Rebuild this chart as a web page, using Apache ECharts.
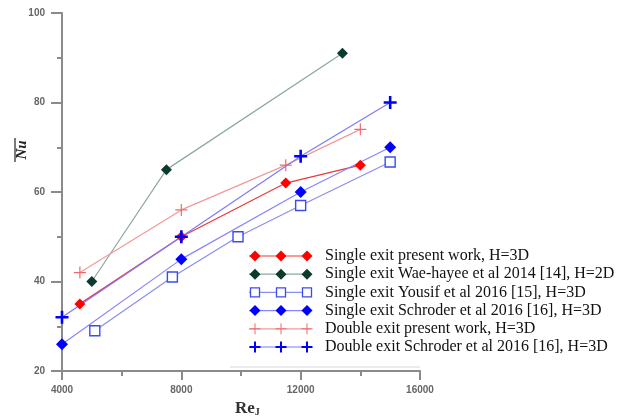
<!DOCTYPE html>
<html>
<head>
<meta charset="utf-8">
<script src="https://cdn.jsdelivr.net/npm/echarts@6/dist/echarts.min.js"></script>
<style>
  html, body { margin: 0; padding: 0; background: #fff; }
  #chart { width: 624px; height: 417px; }
</style>
</head>
<body>
<div id="chart"></div>
<script>
// data: [Re_J, Nu]
const seriesNames = [
  'Single exit present work, H=3D',
  'Single exit Wae-hayee et al 2014 [14], H=2D',
  'Single exit Yousif et al 2016 [15], H=3D',
  'Single exit Schroder et al 2016 [16], H=3D',
  'Double exit present work, H=3D',
  'Double exit Schroder et al 2016 [16], H=3D'
];
const singlePresent = [[4600, 35], [8000, 50], [11500, 62], [14000, 66]];
const singleWaeHayee = [[5000, 40], [7500, 65], [13400, 91]];
const singleYousif = [[5100, 29], [7700, 41], [9900, 50], [12000, 57], [15000, 66.7]];
const singleSchroder = [[4000, 26], [8000, 45], [12000, 60], [15000, 70]];
const doublePresent = [[4600, 42], [8000, 56], [11500, 66], [14000, 74]];
const doubleSchroder = [[4000, 32], [8000, 50], [12000, 68], [15000, 80]];
const xTicks = [4000, 8000, 12000, 16000];
const yTicks = [20, 40, 60, 80, 100];

const allData = [singlePresent, singleWaeHayee, singleYousif, singleSchroder, doublePresent, doubleSchroder];

// appearance per series
const styles = [
  { mark: 'diamond', color: '#ff0000', line: '#e83a3a', size: 11 },
  { mark: 'diamond', color: '#0c3a2f', line: '#8da8a0', size: 11 },
  { mark: 'square', color: '#3a4cf0', line: '#8a8ef0', size: 10 },
  { mark: 'diamond', color: '#0000ff', line: '#8585ff', size: 12 },
  { mark: 'plus', color: '#f06a6a', line: '#f29a9a', size: 12, thin: true },
  { mark: 'plus', color: '#0000ff', line: '#7a7aff', size: 13 }
];

const plusThick = 'path://M4,0L6,0L6,4L10,4L10,6L6,6L6,10L4,10L4,6L0,6L0,4L4,4Z';
const plusThin = 'path://M4.5,0L5.5,0L5.5,4.5L10,4.5L10,5.5L5.5,5.5L5.5,10L4.5,10L4.5,5.5L0,5.5L0,4.5L4.5,4.5Z';

const series = allData.map((d, i) => {
  const s = styles[i];
  let symbol = s.mark;
  let itemStyle = { color: s.color };
  if (s.mark === 'square') {
    symbol = 'rect';
    itemStyle = { color: '#ffffff', borderColor: s.color, borderWidth: 1.4 };
  } else if (s.mark === 'plus') {
    symbol = s.thin ? plusThin : plusThick;
  }
  return {
    name: seriesNames[i],
    type: 'line',
    data: d,
    symbol: symbol,
    symbolSize: s.size,
    showSymbol: true,
    lineStyle: { color: s.line, width: 1.2 },
    itemStyle: itemStyle,
    z: i === 1 ? 1 : 2,
    animation: false
  };
});

// hand-drawn legend: a short line with three markers per entry
function marker(kind, cx, cy, color, size, thin) {
  const h = size / 2;
  if (kind === 'diamond') {
    return { type: 'polygon', shape: { points: [[cx, cy - h], [cx + h, cy], [cx, cy + h], [cx - h, cy]] }, style: { fill: color } };
  }
  if (kind === 'square') {
    return { type: 'rect', shape: { x: cx - h, y: cy - h, width: size, height: size }, style: { fill: '#fff', stroke: color, lineWidth: 1.3 } };
  }
  return {
    type: 'group', children: [
      { type: 'line', shape: { x1: cx - h, y1: cy, x2: cx + h, y2: cy }, style: { stroke: color, lineWidth: thin ? 1 : 2 } },
      { type: 'line', shape: { x1: cx, y1: cy - h, x2: cx, y2: cy + h }, style: { stroke: color, lineWidth: thin ? 1 : 2 } }
    ]
  };
}

const legendEls = [];
seriesNames.forEach((name, i) => {
  const s = styles[i];
  const y = 256 + i * 18.2;
  legendEls.push({ type: 'line', shape: { x1: 249, y1: y, x2: 311, y2: y }, style: { stroke: s.line, lineWidth: 1.2 } });
  [255, 281, 307].forEach(cx => legendEls.push(marker(s.mark, cx, y, s.color, s.mark === 'square' ? 9 : 11, s.thin)));
  legendEls.push({
    type: 'text', x: 325, y: y,
    style: { text: name, fill: '#111', font: '16px "Liberation Serif", serif', verticalAlign: 'middle' }
  });
});

const axisGray = '#8a8a8a';
const labelStyle = { color: '#666', fontSize: 10, fontWeight: 'bold', fontFamily: 'Liberation Sans, Arial' };

const chart = echarts.init(document.getElementById('chart'), null, { renderer: 'canvas' });
chart.setOption({
  backgroundColor: '#fff',
  animation: false,
  grid: { left: 62, right: 204, top: 13, bottom: 46 },
  xAxis: {
    type: 'value',
    min: xTicks[0], max: xTicks[xTicks.length - 1], interval: 4000,
    axisLine: { onZero: false, lineStyle: { color: axisGray, width: 2 } },
    axisTick: { length: 9, lineStyle: { color: axisGray, width: 2 } },
    minorTick: { show: true, splitNumber: 2, length: 5, lineStyle: { color: axisGray, width: 2 } },
    splitLine: { show: false },
    axisLabel: Object.assign({ margin: 14, formatter: v => String(v) }, labelStyle)
  },
  yAxis: {
    type: 'value',
    min: yTicks[0], max: yTicks[yTicks.length - 1], interval: 20,
    axisLine: { onZero: false, lineStyle: { color: axisGray, width: 2 } },
    axisTick: { length: 11, lineStyle: { color: axisGray, width: 2 } },
    minorTick: { show: true, splitNumber: 2, length: 5, lineStyle: { color: axisGray, width: 2 } },
    splitLine: { show: false },
    axisLabel: Object.assign({ margin: 17 }, labelStyle)
  },
  series: series,
  graphic: [
    ...legendEls,
    { type: 'line', shape: { x1: 230, y1: 367, x2: 420, y2: 367 }, style: { stroke: '#d8d8d8', lineWidth: 1 } },
    {
      type: 'text', x: 235, y: 409,
      style: {
        text: '{a|Re}{b|J}',
        verticalAlign: 'middle',
        rich: {
          a: { font: 'bold 17px "Liberation Serif", serif', fill: '#333' },
          b: { font: 'bold 10px "Liberation Serif", serif', fill: '#333', padding: [7, 0, 0, 0] }
        }
      }
    },
    {
      type: 'group', x: 22, y: 150, rotation: Math.PI / 2,
      children: [
        { type: 'text', x: 0, y: 0, style: { text: 'Nu', font: 'italic bold 15px "Liberation Serif", serif', fill: '#222', align: 'center', verticalAlign: 'middle' } },
        { type: 'line', shape: { x1: -12, y1: -7, x2: 12, y2: -7 }, style: { stroke: '#222', lineWidth: 1.2 } }
      ]
    }
  ]
});
</script>
</body>
</html>
